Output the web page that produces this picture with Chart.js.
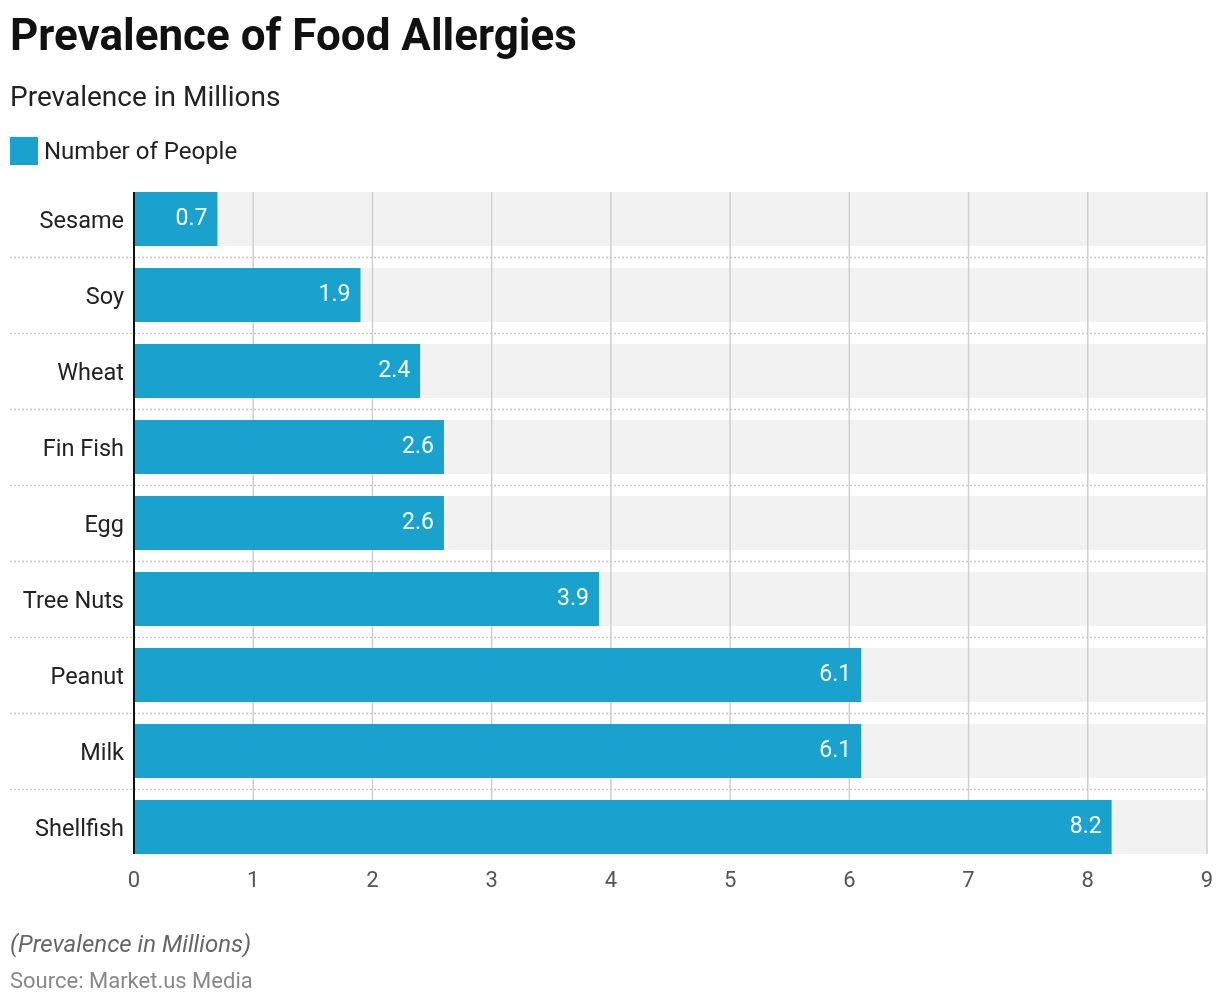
<!DOCTYPE html>
<html>
<head>
<meta charset="utf-8">
<script src="https://cdn.jsdelivr.net/npm/chart.js@4"></script>
<style>
  body { margin: 0; background: #fff; font-family: Roboto, sans-serif; }
  #wrap { position: relative; width: 1220px; height: 1006px; }
  canvas { position: absolute; left: 0; top: 0; }
  .title { position: absolute; left: 10px; top: 9px; font-size: 44px; font-weight: 700; color: #111; }
  .sub { position: absolute; left: 10px; top: 80px; font-size: 28px; color: #222; }
  .legend { position: absolute; left: 10px; top: 137px; font-size: 24px; color: #222; display: flex; align-items: center; }
  .legend span.box { width: 28px; height: 28px; background: #19a2cd; margin-right: 6px; display: inline-block; }
  .note { position: absolute; left: 10px; top: 930px; font-size: 24px; font-style: italic; color: #666; }
  .src { position: absolute; left: 10px; top: 968px; font-size: 22px; color: #888; }
</style>
</head>
<body>
<div id="wrap">
  <canvas id="chart" width="1220" height="1006"></canvas>
  <div class="title">Prevalence of Food Allergies</div>
  <div class="sub">Prevalence in Millions</div>
  <div class="legend"><span class="box"></span>Number of People</div>
  <div class="note">(Prevalence in Millions)</div>
  <div class="src">Source: Market.us Media</div>
</div>
<script>
const categories = ['Sesame', 'Soy', 'Wheat', 'Fin Fish', 'Egg', 'Tree Nuts', 'Peanut', 'Milk', 'Shellfish'];
const people = [0.7, 1.9, 2.4, 2.6, 2.6, 3.9, 6.1, 6.1, 8.2];
const xMax = 9;

const BAR_COLOR = '#19a2cd';
const BAND_COLOR = '#f2f2f2';
const BAR_PCT = 0.71;

// gray row bands, vertical grid (clipped to the bands) and dotted separators
const rowBackground = {
  id: 'rowBackground',
  beforeDraw(chart) {
    const { ctx, chartArea, scales: { x, y } } = chart;
    const step = y.getPixelForValue(1) - y.getPixelForValue(0);
    const h = step * BAR_PCT;
    const top = y.getPixelForValue(0) - h / 2;
    const bottom = y.getPixelForValue(categories.length - 1) + h / 2;
    ctx.save();
    ctx.fillStyle = BAND_COLOR;
    categories.forEach((c, i) => {
      const cy = y.getPixelForValue(i);
      ctx.fillRect(chartArea.left, cy - h / 2, chartArea.right - chartArea.left, h);
    });
    ctx.strokeStyle = '#cfcfcf';
    ctx.lineWidth = 1.5;
    x.ticks.forEach(t => {
      if (t.value === 0) return;
      const gx = x.getPixelForValue(t.value);
      ctx.beginPath();
      ctx.moveTo(gx, top);
      ctx.lineTo(gx, bottom);
      ctx.stroke();
    });
    ctx.strokeStyle = '#c8c8c8';
    ctx.setLineDash([2, 2]);
    for (let i = 0; i < categories.length - 1; i++) {
      const sy = Math.round(y.getPixelForValue(i) + step / 2) + 0.5;
      ctx.beginPath();
      ctx.moveTo(10, sy);
      ctx.lineTo(chartArea.right - 2, sy);
      ctx.stroke();
    }
    ctx.restore();
  }
};

// value labels inside bars + left axis line
const barLabels = {
  id: 'barLabels',
  afterDatasetsDraw(chart) {
    const { ctx, scales: { y } } = chart;
    const meta = chart.getDatasetMeta(0);
    ctx.save();
    ctx.font = '23px Roboto';
    ctx.fillStyle = '#fff';
    ctx.textAlign = 'right';
    ctx.textBaseline = 'middle';
    meta.data.forEach((bar, i) => {
      ctx.fillText(people[i].toFixed(1), bar.x - 10, bar.y);
    });
    const step = y.getPixelForValue(1) - y.getPixelForValue(0);
    const h = step * BAR_PCT;
    const x0 = chart.scales.x.getPixelForValue(0);
    ctx.strokeStyle = '#111';
    ctx.lineWidth = 2;
    ctx.beginPath();
    ctx.moveTo(x0, y.getPixelForValue(0) - h / 2);
    ctx.lineTo(x0, y.getPixelForValue(categories.length - 1) + h / 2);
    ctx.stroke();
    ctx.restore();
  }
};

new Chart(document.getElementById('chart'), {
  type: 'bar',
  data: {
    labels: categories,
    datasets: [{
      label: 'Number of People',
      data: people,
      backgroundColor: BAR_COLOR,
      barPercentage: BAR_PCT,
      categoryPercentage: 1,
    }]
  },
  options: {
    indexAxis: 'y',
    responsive: false,
    animation: false,
    layout: { padding: { left: 10, right: 13, top: 181, bottom: 81 } },
    plugins: {
      legend: { display: false },
      tooltip: { enabled: false },
    },
    scales: {
      x: {
        min: 0,
        max: xMax,
        border: { display: false },
        grid: { display: false, drawTicks: false },
        ticks: {
          stepSize: 1,
          padding: 3,
          color: '#555',
          font: { family: 'Roboto', size: 22 },
        },
        afterFit: s => { s.height = 60; },
      },
      y: {
        border: { display: false },
        grid: { display: false, drawTicks: false },
        ticks: {
          padding: 10,
          labelOffset: 3,
          color: '#222',
          font: { family: 'Roboto', size: 23.5 },
        },
        afterFit: s => { s.width = 124; },
      }
    }
  },
  plugins: [rowBackground, barLabels]
});
</script>
</body>
</html>
